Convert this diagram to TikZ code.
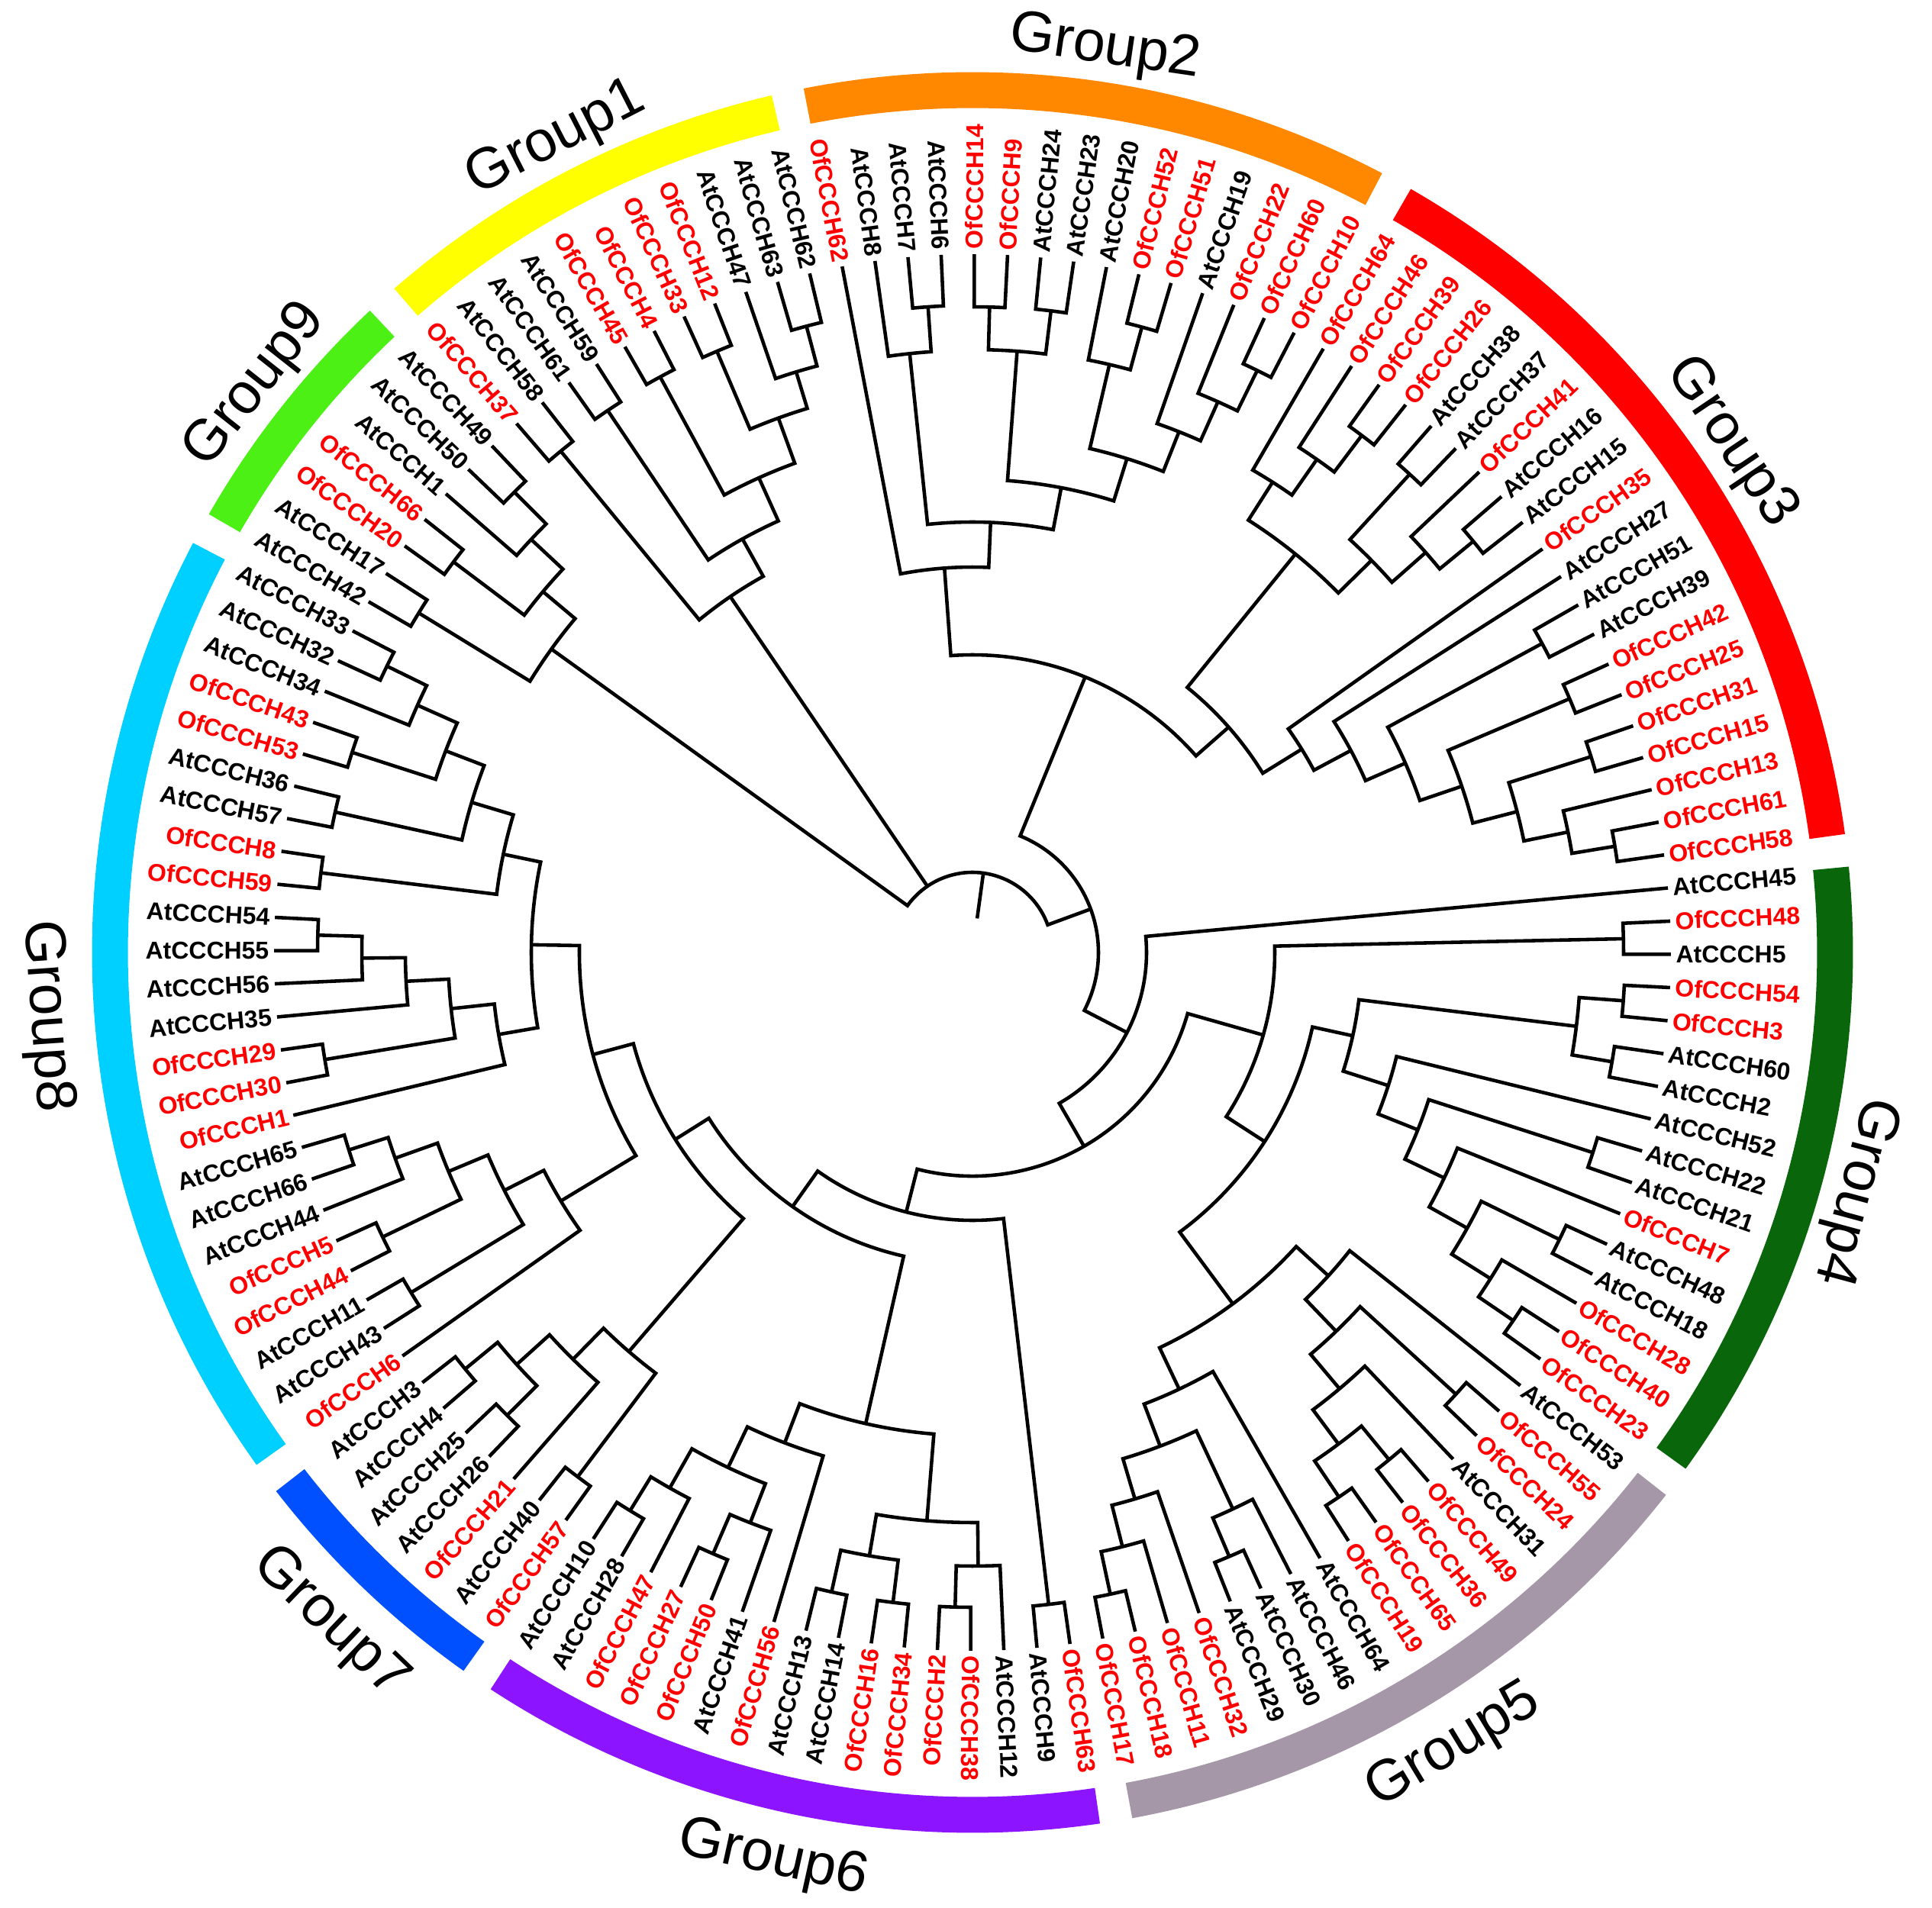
\documentclass[tikz,border=0pt]{standalone}
\usepackage{fontspec}
\setmainfont{Liberation Sans}
\definecolor{ofred}{RGB}{255,0,0}
\definecolor{cGa}{RGB}{255,255,0}
\definecolor{cGb}{RGB}{255,136,0}
\definecolor{cGc}{RGB}{255,0,0}
\definecolor{cGd}{RGB}{10,102,10}
\definecolor{cGe}{RGB}{165,150,168}
\definecolor{cGf}{RGB}{140,20,255}
\definecolor{cGg}{RGB}{0,80,255}
\definecolor{cGh}{RGB}{0,208,255}
\definecolor{cGi}{RGB}{76,240,20}
\tikzset{
  tree/.style={line width=1.3pt,line join=miter,draw=black},
  leaf/.style={inner sep=0pt,font=\fontsize{9.1}{10}\selectfont\bfseries},
  grp/.style={inner sep=0pt,font=\fontsize{21.5}{24}\selectfont}
}
% leaf: index, name, colour
\newcommand\lf[3]{%
  \pgfmathsetmacro\tLa{5.3-2.72727*#1+(#1>78)*360}%
  \expandafter\xdef\csname A@#2\endcsname{\tLa}%
  \expandafter\xdef\csname R@#2\endcsname{9.15}%
  \ifnum#1<36 \def\tLr{\tLa}\def\tLn{west}%
  \else\ifnum#1>100 \def\tLr{\tLa}\def\tLn{west}%
  \else\pgfmathsetmacro\tLr{\tLa+180}\def\tLn{east}\fi\fi
  \node[leaf,text=#3,rotate=\tLr,anchor=\tLn] (#2) at (\tLa:9.21) {#2};%
}
% clade: name, radius, child1, child2
\newcommand\clade[4]{%
  \edef\tA{\csname A@#3\endcsname}\edef\tB{\csname A@#4\endcsname}%
  \edef\tRa{\csname R@#3\endcsname}\edef\tRb{\csname R@#4\endcsname}%
  \pgfmathsetmacro\tM{(\tA+\tB)/2}%
  \expandafter\xdef\csname A@#1\endcsname{\tM}%
  \expandafter\xdef\csname R@#1\endcsname{#2}%
  \draw[tree] (\tA:\tRa) -- (\tA:#2) arc[start angle=\tA,end angle=\tB,radius=#2] -- (\tB:\tRb);%
}
\newcommand\attach[2]{%
  \edef\tA{\csname A@#2\endcsname}\edef\tRa{\csname R@#2\endcsname}%
  \draw[tree] (\tA:\tRa) -- (\tA:#1);}
% band: first leaf, last leaf, colour
\newcommand\band[3]{%
  \edef\tA{\csname A@#1\endcsname}\edef\tB{\csname A@#2\endcsname}%
  \pgfmathsetmacro\tBs{\tA+0.3}\pgfmathsetmacro\tBe{\tB-0.3}%
  \draw[line width=0.47cm,draw=#3] (\tBs:11.3) arc[start angle=\tBs,end angle=\tBe,radius=11.3];}
% group label: first, last, text, t/b, node name
\newcommand\glab[5]{%
  \edef\tA{\csname A@#1\endcsname}\edef\tB{\csname A@#2\endcsname}%
  \pgfmathsetmacro\tGm{(\tA+\tB)/2}%
  \if t#4\pgfmathsetmacro\tGr{\tGm-90}%
    \node[grp,rotate=\tGr,anchor=south] (#5) at (\tGm:11.62) {#3};%
  \else\pgfmathsetmacro\tGr{\tGm+90}%
    \node[grp,rotate=\tGr,anchor=north] (#5) at (\tGm:11.82) {#3};\fi}
\begin{document}
\begin{tikzpicture}
\useasboundingbox (-12.74,-12.51) rectangle (12.57,12.48);
% ---------- leaves ----------
\lf{0}{AtCCCH45}{black}
\lf{1}{OfCCCH48}{ofred}
\lf{2}{AtCCCH5}{black}
\lf{3}{OfCCCH54}{ofred}
\lf{4}{OfCCCH3}{ofred}
\lf{5}{AtCCCH60}{black}
\lf{6}{AtCCCH2}{black}
\lf{7}{AtCCCH52}{black}
\lf{8}{AtCCCH22}{black}
\lf{9}{AtCCCH21}{black}
\lf{10}{OfCCCH7}{ofred}
\lf{11}{AtCCCH48}{black}
\lf{12}{AtCCCH18}{black}
\lf{13}{OfCCCH28}{ofred}
\lf{14}{OfCCCH40}{ofred}
\lf{15}{OfCCCH23}{ofred}
\lf{16}{AtCCCH53}{black}
\lf{17}{OfCCCH55}{ofred}
\lf{18}{OfCCCH24}{ofred}
\lf{19}{AtCCCH31}{black}
\lf{20}{OfCCCH49}{ofred}
\lf{21}{OfCCCH36}{ofred}
\lf{22}{OfCCCH65}{ofred}
\lf{23}{OfCCCH19}{ofred}
\lf{24}{AtCCCH64}{black}
\lf{25}{AtCCCH46}{black}
\lf{26}{AtCCCH30}{black}
\lf{27}{AtCCCH29}{black}
\lf{28}{OfCCCH32}{ofred}
\lf{29}{OfCCCH11}{ofred}
\lf{30}{OfCCCH18}{ofred}
\lf{31}{OfCCCH17}{ofred}
\lf{32}{OfCCCH63}{ofred}
\lf{33}{AtCCCH9}{black}
\lf{34}{AtCCCH12}{black}
\lf{35}{OfCCCH38}{ofred}
\lf{36}{OfCCCH2}{ofred}
\lf{37}{OfCCCH34}{ofred}
\lf{38}{OfCCCH16}{ofred}
\lf{39}{AtCCCH14}{black}
\lf{40}{AtCCCH13}{black}
\lf{41}{OfCCCH56}{ofred}
\lf{42}{AtCCCH41}{black}
\lf{43}{OfCCCH50}{ofred}
\lf{44}{OfCCCH27}{ofred}
\lf{45}{OfCCCH47}{ofred}
\lf{46}{AtCCCH28}{black}
\lf{47}{AtCCCH10}{black}
\lf{48}{OfCCCH57}{ofred}
\lf{49}{AtCCCH40}{black}
\lf{50}{OfCCCH21}{ofred}
\lf{51}{AtCCCH26}{black}
\lf{52}{AtCCCH25}{black}
\lf{53}{AtCCCH4}{black}
\lf{54}{AtCCCH3}{black}
\lf{55}{OfCCCH6}{ofred}
\lf{56}{AtCCCH43}{black}
\lf{57}{AtCCCH11}{black}
\lf{58}{OfCCCH44}{ofred}
\lf{59}{OfCCCH5}{ofred}
\lf{60}{AtCCCH44}{black}
\lf{61}{AtCCCH66}{black}
\lf{62}{AtCCCH65}{black}
\lf{63}{OfCCCH1}{ofred}
\lf{64}{OfCCCH30}{ofred}
\lf{65}{OfCCCH29}{ofred}
\lf{66}{AtCCCH35}{black}
\lf{67}{AtCCCH56}{black}
\lf{68}{AtCCCH55}{black}
\lf{69}{AtCCCH54}{black}
\lf{70}{OfCCCH59}{ofred}
\lf{71}{OfCCCH8}{ofred}
\lf{72}{AtCCCH57}{black}
\lf{73}{AtCCCH36}{black}
\lf{74}{OfCCCH53}{ofred}
\lf{75}{OfCCCH43}{ofred}
\lf{76}{AtCCCH34}{black}
\lf{77}{AtCCCH32}{black}
\lf{78}{AtCCCH33}{black}
\lf{79}{AtCCCH42}{black}
\lf{80}{AtCCCH17}{black}
\lf{81}{OfCCCH20}{ofred}
\lf{82}{OfCCCH66}{ofred}
\lf{83}{AtCCCH1}{black}
\lf{84}{AtCCCH50}{black}
\lf{85}{AtCCCH49}{black}
\lf{86}{OfCCCH37}{ofred}
\lf{87}{AtCCCH58}{black}
\lf{88}{AtCCCH61}{black}
\lf{89}{AtCCCH59}{black}
\lf{90}{OfCCCH45}{ofred}
\lf{91}{OfCCCH4}{ofred}
\lf{92}{OfCCCH33}{ofred}
\lf{93}{OfCCCH12}{ofred}
\lf{94}{AtCCCH47}{black}
\lf{95}{AtCCCH63}{black}
\lf{96}{AtCCCH62}{black}
\lf{97}{OfCCCH62}{ofred}
\lf{98}{AtCCCH8}{black}
\lf{99}{AtCCCH7}{black}
\lf{100}{AtCCCH6}{black}
\lf{101}{OfCCCH14}{ofred}
\lf{102}{OfCCCH9}{ofred}
\lf{103}{AtCCCH24}{black}
\lf{104}{AtCCCH23}{black}
\lf{105}{AtCCCH20}{black}
\lf{106}{OfCCCH52}{ofred}
\lf{107}{OfCCCH51}{ofred}
\lf{108}{AtCCCH19}{black}
\lf{109}{OfCCCH22}{ofred}
\lf{110}{OfCCCH60}{ofred}
\lf{111}{OfCCCH10}{ofred}
\lf{112}{OfCCCH64}{ofred}
\lf{113}{OfCCCH46}{ofred}
\lf{114}{OfCCCH39}{ofred}
\lf{115}{OfCCCH26}{ofred}
\lf{116}{AtCCCH38}{black}
\lf{117}{AtCCCH37}{black}
\lf{118}{OfCCCH41}{ofred}
\lf{119}{AtCCCH16}{black}
\lf{120}{AtCCCH15}{black}
\lf{121}{OfCCCH35}{ofred}
\lf{122}{AtCCCH27}{black}
\lf{123}{AtCCCH51}{black}
\lf{124}{AtCCCH39}{black}
\lf{125}{OfCCCH42}{ofred}
\lf{126}{OfCCCH25}{ofred}
\lf{127}{OfCCCH31}{ofred}
\lf{128}{OfCCCH15}{ofred}
\lf{129}{OfCCCH13}{ofred}
\lf{130}{OfCCCH61}{ofred}
\lf{131}{OfCCCH58}{ofred}
% ---------- group bands and labels ----------
\band{AtCCCH45}{OfCCCH23}{cGd}
\band{AtCCCH53}{OfCCCH17}{cGe}
\band{OfCCCH63}{AtCCCH10}{cGf}
\band{OfCCCH57}{AtCCCH3}{cGg}
\band{OfCCCH6}{AtCCCH33}{cGh}
\band{AtCCCH42}{AtCCCH49}{cGi}
\band{OfCCCH37}{AtCCCH62}{cGa}
\band{OfCCCH62}{OfCCCH10}{cGb}
\band{OfCCCH64}{OfCCCH58}{cGc}
\glab{OfCCCH37}{AtCCCH62}{Group1}{t}{gA}
\glab{OfCCCH62}{OfCCCH10}{Group2}{t}{gB}
\glab{OfCCCH64}{OfCCCH58}{Group3}{t}{gC}
\glab{AtCCCH45}{OfCCCH23}{Group4}{t}{gD}
\glab{AtCCCH53}{OfCCCH17}{Group5}{b}{gE}
\glab{OfCCCH63}{AtCCCH10}{Group6}{b}{gF}
\glab{OfCCCH57}{AtCCCH3}{Group7}{b}{gG}
\glab{OfCCCH6}{AtCCCH33}{Group8}{b}{gH}
\glab{AtCCCH42}{AtCCCH49}{Group9}{t}{gI}
% ---------- Group3 ----------
\clade{gtc}{8.48}{OfCCCH39}{OfCCCH26}
\clade{gtb}{7.88}{OfCCCH46}{gtc}
\clade{gta}{7.31}{OfCCCH64}{gtb}
\clade{gte}{8.49}{AtCCCH38}{AtCCCH37}
\clade{gtg}{8.49}{AtCCCH16}{AtCCCH15}
\clade{gtf}{7.92}{OfCCCH41}{gtg}
\clade{gtd}{7.33}{gte}{gtf}
\clade{gtu}{6.72}{gta}{gtd}
\clade{gtlg}{8.53}{OfCCCH61}{OfCCCH58}
\clade{gtlf}{7.96}{OfCCCH13}{gtlg}
\clade{gtcc}{8.50}{OfCCCH31}{OfCCCH15}
\clade{gtle}{7.37}{gtcc}{gtlf}
\clade{gtcb}{8.50}{OfCCCH42}{OfCCCH25}
\clade{gtld}{6.77}{gtcb}{gtle}
\clade{gtca}{8.49}{AtCCCH51}{AtCCCH39}
\clade{gtlc}{6.19}{gtca}{gtld}
\clade{gtlb}{5.62}{AtCCCH27}{gtlc}
\clade{gtl}{5.07}{OfCCCH35}{gtlb}
\clade{gt}{4.47}{gtu}{gtl}
% ---------- Group2 ----------
\clade{gsqa}{8.48}{AtCCCH7}{AtCCCH6}
\clade{gsq}{7.89}{AtCCCH8}{gsqa}
\clade{gssa}{8.46}{OfCCCH14}{OfCCCH9}
\clade{gssb}{8.47}{AtCCCH24}{AtCCCH23}
\clade{gss}{7.90}{gssa}{gssb}
\clade{gsva}{8.49}{OfCCCH52}{OfCCCH51}
\clade{gsv}{7.91}{AtCCCH20}{gsva}
\clade{gsya}{8.49}{OfCCCH60}{OfCCCH10}
\clade{gsy}{7.90}{OfCCCH22}{gsya}
\clade{gsw}{7.34}{AtCCCH19}{gsy}
\clade{gst}{6.78}{gsv}{gsw}
\clade{gsr}{6.20}{gss}{gst}
\clade{gsp}{5.64}{gsq}{gsr}
\clade{gs}{5.05}{OfCCCH62}{gsp}
\clade{gst23}{3.90}{gs}{gt}
% ---------- Group4 ----------
\clade{gqma}{8.55}{OfCCCH54}{OfCCCH3}
\clade{gqmb}{8.50}{AtCCCH60}{AtCCCH2}
\clade{gqm}{7.97}{gqma}{gqmb}
\clade{gqfa}{8.57}{OfCCCH40}{OfCCCH23}
\clade{gqf}{8.02}{OfCCCH28}{gqfa}
\clade{gqea}{8.56}{AtCCCH48}{AtCCCH18}
\clade{gqe}{7.42}{gqea}{gqf}
\clade{gqdd}{6.85}{OfCCCH7}{gqe}
\clade{gqca}{8.54}{AtCCCH22}{AtCCCH21}
\clade{gqc}{6.28}{gqca}{gqdd}
\clade{gqb}{5.72}{AtCCCH52}{gqc}
\clade{gq}{5.10}{gqm}{gqb}
% ---------- Group5 ----------
\clade{gfia}{8.60}{OfCCCH49}{OfCCCH36}
\clade{gfib}{8.60}{OfCCCH65}{OfCCCH19}
\clade{gfi}{8.03}{gfia}{gfib}
\clade{gfh}{7.47}{AtCCCH31}{gfi}
\clade{gfga}{8.58}{OfCCCH55}{OfCCCH24}
\clade{gfg}{6.88}{gfga}{gfh}
\clade{gfa}{6.30}{AtCCCH53}{gfg}
\clade{gfka}{8.60}{AtCCCH30}{AtCCCH29}
\clade{gfk}{8.05}{AtCCCH46}{gfka}
\clade{gfma}{8.60}{OfCCCH18}{OfCCCH17}
\clade{gfm}{8.03}{OfCCCH11}{gfma}
\clade{gfl}{7.47}{OfCCCH32}{gfm}
\clade{gfj}{6.92}{gfk}{gfl}
\clade{gfb}{6.33}{AtCCCH64}{gfj}
\clade{gf}{5.73}{gfa}{gfb}
\clade{zc}{4.56}{gq}{gf}
\clade{zaa}{8.53}{OfCCCH48}{AtCCCH5}
\clade{za}{3.96}{zaa}{zc}
% ---------- Group6 ----------
\clade{kca}{8.58}{AtCCCH14}{AtCCCH13}
\clade{kcb}{8.58}{OfCCCH16}{OfCCCH34}
\clade{kc}{8.02}{kca}{kcb}
\clade{kda}{8.58}{OfCCCH38}{OfCCCH2}
\clade{kd}{8.04}{AtCCCH12}{kda}
\clade{kb}{7.47}{kc}{kd}
\clade{kfa}{8.58}{OfCCCH50}{OfCCCH27}
\clade{kf}{8.02}{AtCCCH41}{kfa}
\clade{kga}{8.58}{AtCCCH28}{AtCCCH10}
\clade{kg}{8.06}{OfCCCH47}{kga}
\clade{ke}{7.47}{kf}{kg}
\clade{ka}{6.88}{OfCCCH56}{ke}
\clade{gx}{6.33}{ka}{kb}
% ---------- Group7 ----------
\clade{gvba}{8.60}{AtCCCH4}{AtCCCH3}
\clade{gvbb}{8.60}{AtCCCH26}{AtCCCH25}
\clade{gvb}{8.05}{gvba}{gvbb}
\clade{gva}{7.47}{gvb}{OfCCCH21}
\clade{gvc}{8.60}{AtCCCH40}{OfCCCH57}
\clade{gv}{6.90}{gva}{gvc}
% ---------- Group8 ----------
\clade{nhta}{8.57}{AtCCCH66}{AtCCCH65}
\clade{nht}{8.03}{AtCCCH44}{nhta}
\clade{nsfa}{8.58}{OfCCCH44}{OfCCCH5}
\clade{nsf}{7.44}{nsfa}{nht}
\clade{nnoa}{8.60}{AtCCCH43}{AtCCCH11}
\clade{nno}{6.88}{nnoa}{nsf}
\clade{nbot}{6.30}{OfCCCH6}{nno}
\clade{neza}{8.58}{AtCCCH55}{AtCCCH54}
\clade{nez}{8.00}{AtCCCH56}{neza}
\clade{nef}{7.43}{AtCCCH35}{nez}
\clade{neea}{8.60}{OfCCCH30}{OfCCCH29}
\clade{nee}{6.87}{nef}{neea}
\clade{nto}{6.30}{OfCCCH1}{nee}
\clade{nsna}{8.54}{AtCCCH32}{AtCCCH33}
\clade{nsn}{7.96}{AtCCCH34}{nsna}
\clade{ntna}{8.54}{OfCCCH53}{OfCCCH43}
\clade{ntn}{7.39}{ntna}{nsn}
\clade{nfia}{8.55}{AtCCCH57}{AtCCCH36}
\clade{nfi}{6.85}{nfia}{ntn}
\clade{ntwa}{8.60}{OfCCCH59}{OfCCCH8}
\clade{ntw}{6.28}{nfi}{ntwa}
\clade{nfe}{5.78}{ntw}{nto}
\clade{na}{5.15}{nfe}{nbot}
\clade{ygs}{4.60}{na}{gv}
\clade{yb}{4.08}{ygs}{gx}
\clade{zba}{8.60}{AtCCCH9}{OfCCCH63}
\clade{zb}{3.51}{yb}{zba}
\clade{zz}{2.93}{za}{zb}
\clade{xx}{2.28}{AtCCCH45}{zz}
\clade{rn}{1.65}{gst23}{xx}
% ---------- Group9 and Group1 ----------
\clade{gnba}{8.51}{AtCCCH49}{AtCCCH50}
\clade{gnb}{7.92}{gnba}{AtCCCH1}
\clade{gnc}{8.51}{OfCCCH66}{OfCCCH20}
\clade{gn}{7.35}{gnb}{gnc}
\clade{aoc}{8.51}{AtCCCH17}{AtCCCH42}
\clade{ao}{6.80}{gn}{aoc}
\clade{bda}{8.49}{AtCCCH63}{AtCCCH62}
\clade{bd}{7.95}{AtCCCH47}{bda}
\clade{bca}{8.56}{OfCCCH33}{OfCCCH12}
\clade{bc}{7.45}{bca}{bd}
\clade{bba}{8.58}{OfCCCH45}{OfCCCH4}
\clade{bb}{6.82}{bba}{bc}
\clade{baa}{8.56}{AtCCCH61}{AtCCCH59}
\clade{ba}{6.20}{baa}{bb}
\clade{ata}{8.50}{OfCCCH37}{AtCCCH58}
\clade{at}{5.64}{ata}{ba}
% ---------- root ----------
\clade{root}{1.05}{rn}{ao}
\attach{1.05}{at}
\edef\tA{\csname A@root\endcsname}
\draw[tree] (\tA:1.05) -- (\tA:0.45);
\end{tikzpicture}
\end{document}
